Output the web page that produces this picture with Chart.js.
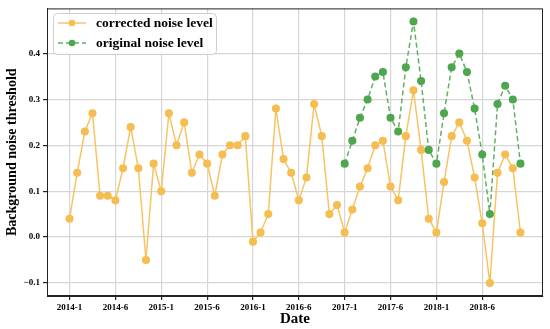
<!DOCTYPE html>
<html>
<head>
<meta charset="utf-8">
<script src="https://cdn.jsdelivr.net/npm/chart.js@4/dist/chart.umd.min.js"></script>
<style>
  html, body { margin: 0; padding: 0; background: #fff; }
  #wrap { width: 550px; height: 329px; position: relative; }
</style>
</head>
<body>
<div id="wrap"><canvas id="noiseChart"></canvas></div>
<script>
// monthly values, 2014-1 .. 2018-12 (index 0..59)
const CORRECTED = [
  0.04, 0.14, 0.23, 0.27, 0.09, 0.09, 0.08, 0.15, 0.24, 0.15, -0.05, 0.16,
  0.10, 0.27, 0.20, 0.25, 0.14, 0.18, 0.16, 0.09, 0.18, 0.20, 0.20, 0.22,
  -0.01, 0.01, 0.05, 0.28, 0.17, 0.14, 0.08, 0.13, 0.29, 0.22, 0.05, 0.07,
  0.01, 0.06, 0.11, 0.15, 0.20, 0.21, 0.11, 0.08, 0.22, 0.32, 0.19, 0.04,
  0.01, 0.12, 0.22, 0.25, 0.21, 0.13, 0.03, -0.10, 0.14, 0.18, 0.15, 0.01
];
// original series only exists from 2017-1 (index 36)
const ORIGINAL_START = 36;
const ORIGINAL = [
  0.16, 0.21, 0.26, 0.30, 0.35, 0.36, 0.26, 0.23, 0.37, 0.47, 0.34, 0.19,
  0.16, 0.27, 0.37, 0.40, 0.36, 0.28, 0.18, 0.05, 0.29, 0.33, 0.30, 0.16
];
const X_TICK_POS = [0, 6, 12, 18, 24, 30, 36, 42, 48, 54];
const X_TICK_LABELS = ['2014-1', '2014-6', '2015-1', '2015-6', '2016-1',
                       '2016-6', '2017-1', '2017-6', '2018-1', '2018-6'];
const Y_TICKS = [-0.1, 0.0, 0.1, 0.2, 0.3, 0.4];

const SERIF = "'Liberation Serif', 'Times New Roman', serif";
const ORANGE = '#f7c462';
const ORANGE_PT = '#f5bd52';
const GREEN = '#62b062';
const GREEN_PT = '#4ea64e';

const correctedPts = CORRECTED.map((v, i) => ({ x: i, y: v }));
const originalPts = ORIGINAL.map((v, i) => ({ x: ORIGINAL_START + i, y: v }));

// frame round the plot area + legend inside it
const framePlugin = {
  id: 'frame',
  afterDraw(chart) {
    const { ctx, chartArea: a } = chart;
    ctx.save();
    ctx.strokeStyle = '#222';
    ctx.lineWidth = 1;
    ctx.strokeRect(a.left + 0.5, a.top + 0.5, a.right - a.left - 1, a.bottom - a.top - 1);

    // legend box
    const bx = 53, by = 13, bw = 163, bh = 41;
    ctx.beginPath();
    ctx.roundRect(bx + 0.5, by + 0.5, bw, bh, 4);
    ctx.fillStyle = 'rgba(255,255,255,0.85)';
    ctx.fill();
    ctx.strokeStyle = '#cfcfcf';
    ctx.stroke();

    const rows = [
      { y: 23, text: 'corrected noise level', line: ORANGE, pt: ORANGE_PT, dash: [] },
      { y: 43, text: 'original noise level', line: GREEN, pt: GREEN_PT, dash: [5, 3] }
    ];
    rows.forEach(r => {
      ctx.setLineDash(r.dash);
      ctx.strokeStyle = r.line;
      ctx.lineWidth = 1.5;
      ctx.beginPath();
      ctx.moveTo(58, r.y);
      ctx.lineTo(86, r.y);
      ctx.stroke();
      ctx.setLineDash([]);
      ctx.fillStyle = r.pt;
      ctx.beginPath();
      ctx.arc(72, r.y, 3.3, 0, Math.PI * 2);
      ctx.fill();
      ctx.fillStyle = '#000';
      ctx.font = 'bold 13.5px ' + SERIF;
      ctx.textBaseline = 'middle';
      ctx.textAlign = 'left';
      ctx.fillText(r.text, 96, r.y + 0.5);
    });
    ctx.restore();
  }
};

new Chart(document.getElementById('noiseChart'), {
  type: 'line',
  data: {
    datasets: [
      {
        label: 'corrected noise level',
        data: correctedPts,
        borderColor: ORANGE,
        backgroundColor: ORANGE_PT,
        pointBackgroundColor: ORANGE_PT,
        pointBorderColor: ORANGE_PT,
        borderWidth: 1.5,
        pointRadius: 3.3,
        tension: 0,
        order: 2
      },
      {
        label: 'original noise level',
        data: originalPts,
        borderColor: GREEN,
        backgroundColor: GREEN_PT,
        pointBackgroundColor: GREEN_PT,
        pointBorderColor: GREEN_PT,
        borderWidth: 1.5,
        borderDash: [5, 3],
        pointRadius: 3.3,
        tension: 0,
        order: 1
      }
    ]
  },
  options: {
    responsive: true,
    maintainAspectRatio: false,
    animation: false,
    layout: { padding: { top: 6, right: 7, left: 0, bottom: 0 } },
    plugins: {
      legend: { display: false },
      tooltip: { enabled: false }
    },
    scales: {
      x: {
        type: 'linear',
        min: -2.95,
        max: 61.95,
        afterBuildTicks: s => { s.ticks = X_TICK_POS.map(v => ({ value: v })); },
        afterFit: s => { s.height = 33; },
        grid: { color: '#d6d6d6', lineWidth: 1.2, tickColor: '#222', tickLength: 4 },
        border: { color: '#222' },
        ticks: {
          autoSkip: false,
          maxRotation: 0,
          padding: 2,
          color: '#000',
          font: { family: SERIF, size: 9, weight: 'bold' },
          callback: v => X_TICK_LABELS[X_TICK_POS.indexOf(v)]
        },
        title: {
          display: true,
          text: 'Date',
          color: '#000',
          padding: { top: 0, bottom: 1 },
          font: { family: SERIF, size: 15, weight: 'bold' }
        }
      },
      y: {
        min: -0.1285,
        max: 0.4985,
        afterBuildTicks: s => { s.ticks = Y_TICKS.map(v => ({ value: v })); },
        afterFit: s => { s.width = 47; },
        grid: { color: '#d6d6d6', lineWidth: 1.2, tickColor: '#222', tickLength: 4 },
        border: { color: '#222' },
        ticks: {
          padding: 3,
          color: '#000',
          font: { family: SERIF, size: 9, weight: 'bold' },
          callback: v => (v < 0 ? '\u2212' : '') + Math.abs(v).toFixed(1)
        },
        title: {
          display: true,
          text: 'Background noise threshold',
          color: '#000',
          padding: { top: 4, bottom: 0 },
          font: { family: SERIF, size: 14, weight: 'bold' }
        }
      }
    }
  },
  plugins: [framePlugin]
});
</script>
</body>
</html>
